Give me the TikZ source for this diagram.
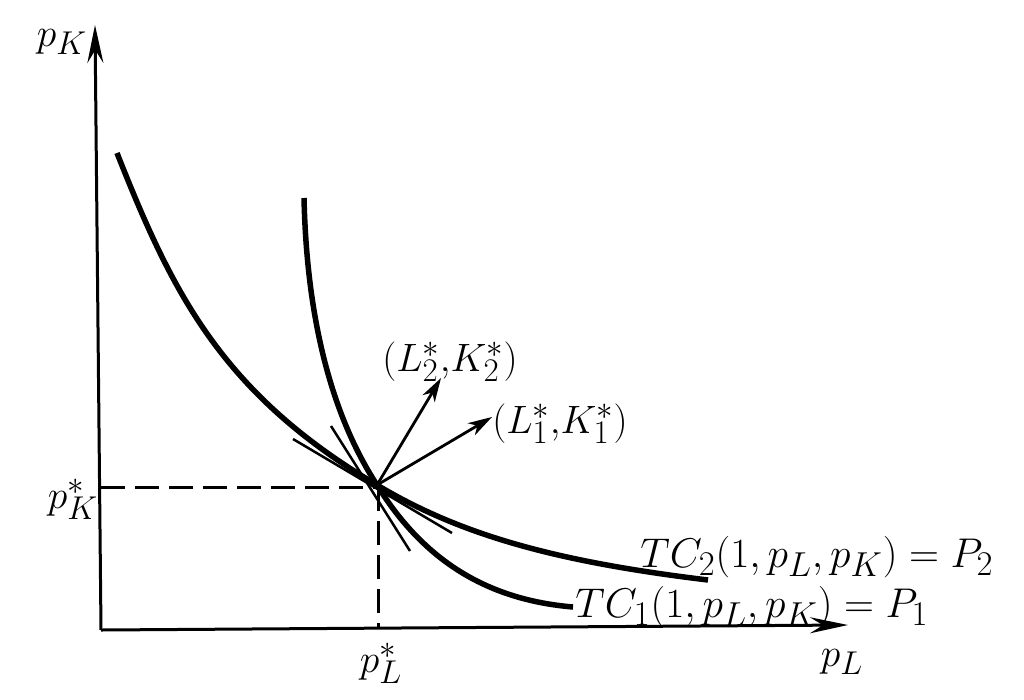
\documentclass[tikz,border=0pt]{standalone}
\usetikzlibrary{arrows.meta}
\begin{document}
\begin{tikzpicture}[x=1pt,y=-1pt,
  axis/.style={line width=3pt,-{Stealth[length=38pt,width=16pt,inset=13pt]}},
  curve/.style={line width=5.5pt},
  tang/.style={line width=2.5pt},
  vec/.style={line width=2.8pt,-{Stealth[length=24pt,width=14pt,inset=7pt]}},
  guide/.style={line width=3pt,dash pattern=on 24pt off 10pt},
  lbl/.style={inner sep=0pt,font=\Huge,scale=1.59},
  biglbl/.style={inner sep=0pt,font=\Huge,scale=1.67}]
\useasboundingbox (0,0) rectangle (1024,699);
\coordinate (O) at (101,630);
\coordinate (Ytip) at (95,25);
\coordinate (Xtip) at (848,625);
\coordinate (P) at (377,485);
\coordinate (Pk) at (101,487);
\coordinate (Pv) at (378,487);
\coordinate (Pl) at (378,629);
% axes
\draw[axis] (O) -- (Ytip);
\draw[axis] (O) -- (Xtip);
% guides
\draw[guide] (Pk) -- (Pv);
\draw[guide] (Pv) -- (Pl);
% curve TC2 (flatter)
\draw[curve] (117,153) .. controls (172,292) and (221,393) .. (P)
             .. controls (462,536) and (559,562) .. (708,580);
% curve TC1 (steeper)
\draw[curve] (304,198) .. controls (307,330) and (336,422) .. (P)
             .. controls (425,563) and (490,600) .. (573,607);
% tangent lines
\coordinate (T1a) at (293,439);
\coordinate (T1b) at (452,533);
\coordinate (T2a) at (331,426);
\coordinate (T2b) at (410,551);
\draw[tang] (T1a) -- (T1b);
\draw[tang] (T2a) -- (T2b);
% gradient vectors
\coordinate (V2) at (441,378);
\coordinate (V1) at (492,417);
\draw[vec] (P) -- (V2);
\draw[vec] (P) -- (V1);
% labels
\node[lbl] (lpK) at (62,42) {$p_K$};
\node[lbl] (lpKs) at (73,499) {$p_K^*$};
\node[lbl] (lpLs) at (381,663) {$p_L^*$};
\node[lbl] (lpL) at (842,662) {$p_L$};
\node[lbl] (lv2) at (450,362) {$(L_2^*{,}K_2^*)$};
\node[lbl] (lv1) at (560,424) {$(L_1^*{,}K_1^*)$};
\node[biglbl,anchor=base west] (ltc2) at (640,567) {$TC_2(1,p_L,p_K)=P_2$};
\node[biglbl,anchor=base west] (ltc1) at (575,617) {$TC_1(1,p_L,p_K)=P_1$};
\end{tikzpicture}
\end{document}
